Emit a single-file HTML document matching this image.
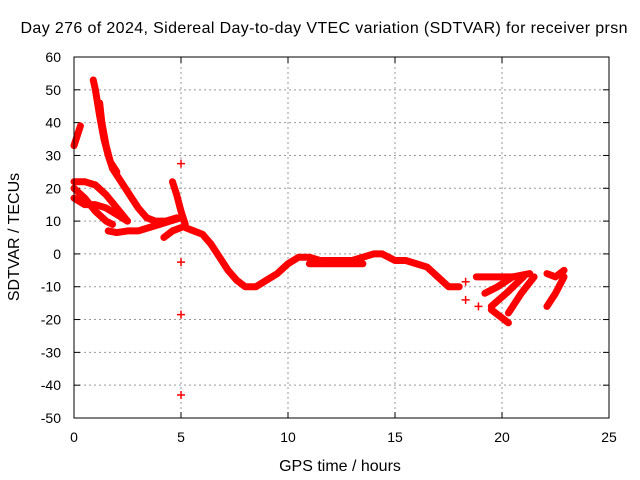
<!DOCTYPE html>
<html><head><meta charset="utf-8"><style>
body{margin:0;background:#fff;}
svg{display:block;font-family:"Liberation Sans",sans-serif;}
</style></head><body>
<svg id="chart" width="640" height="480">
<rect width="640" height="480" fill="#fff"/>
<text x="324" y="33" font-size="16" text-anchor="middle" textLength="607">Day 276 of 2024, Sidereal Day-to-day VTEC variation (SDTVAR) for receiver prsn</text>
<text x="340" y="471" font-size="16" text-anchor="middle">GPS time / hours</text>
<text transform="translate(19,237) rotate(-90)" font-size="16" text-anchor="middle">SDTVAR / TECUs</text>
<g id="grid"></g><g id="ticks"></g><g id="series"></g>
<rect x="74" y="57" width="535" height="361" fill="none" stroke="#000" stroke-width="1"/>
</svg>
<script>
const xTicks=[0,5,10,15,20,25];
const yTicks=[60,50,40,30,20,10,0,-10,-20,-30,-40,-50];
const trackMain1=[[0.9,53],[1.0,50],[1.2,42],[1.4,35],[1.6,30],[1.8,26],[2.2,22],[2.6,18],[3.0,14],[3.4,11],[3.8,10],[4.3,10],[4.8,11]];
const trackMain2=[[1.2,46],[1.3,40],[1.5,33],[1.7,28],[2.0,25]];
const trackB=[[0,22],[0.5,22],[1.0,21],[1.5,18],[2.0,14],[2.5,10]];
const trackC=[[0,17],[0.5,15],[1,15],[1.5,14],[2,12],[2.5,10]];
const trackD=[[0,20],[0.5,17],[1,13],[1.5,10],[1.8,9]];
const trackE=[[1.6,7],[2,6.5],[2.5,7],[3,7],[3.5,8],[4,9],[4.5,10],[5,11]];
const trackF=[[0,33],[0.1,35],[0.3,39]];
const trackG=[[4.6,22],[4.8,18],[5.0,13],[5.2,9]];
const trackH=[[4.2,5],[4.6,7],[5,8]];
const trackLong=[[5.2,8],[5.6,7],[6,6],[6.4,3],[6.8,-1],[7.2,-5],[7.6,-8],[8,-10],[8.5,-10],[9,-8],[9.5,-6],[10,-3],[10.5,-1],[11,-1],[11.5,-2],[12,-2],[12.5,-2],[13,-2],[13.5,-1],[14,0],[14.4,0],[15,-2],[15.5,-2],[16,-3],[16.5,-4],[17,-7],[17.5,-10],[18,-10]];
const trackLow=[[11,-3],[12,-3],[13,-3],[13.5,-3]];
const trackR1=[[18.8,-7],[19.5,-7],[20.5,-7],[21.3,-6]];
const trackR2=[[19.2,-12],[19.8,-10],[20.5,-7]];
const trackR3=[[19.5,-16],[20.2,-12],[21,-7]];
const trackR4=[[19.5,-17],[20.3,-21]];
const trackR5=[[20.3,-18],[20.9,-12],[21.5,-7]];
const trackR6=[[22.1,-16],[22.5,-12],[22.9,-7]];
const trackR7=[[22.1,-6],[22.5,-7],[22.9,-5]];
const tracks=[trackMain1,trackMain2,trackB,trackC,trackD,trackE,trackF,trackG,trackH,trackLong,trackLow,trackR1,trackR2,trackR3,trackR4,trackR5,trackR6,trackR7];
const isolated=[[5,27.5],[5,-2.5],[5,-18.5],[5,-43],[18.3,-8.5],[18.3,-14],[18.9,-16]];
const X=v=>74+v*535/25, Y=v=>418-(v+50)*361/110;
const NS="http://www.w3.org/2000/svg";
const grid=document.getElementById('grid'),ticks=document.getElementById('ticks'),ser=document.getElementById('series');
function mk(tag,attrs,parent){const e=document.createElementNS(NS,tag);for(const k in attrs)e.setAttribute(k,attrs[k]);parent.appendChild(e);return e;}
xTicks.forEach(t=>{
 if(t>0&&t<25){const g=mk('line',{x1:X(t),x2:X(t),y1:57,y2:418,stroke:'#999','stroke-dasharray':'2,3'},grid);
 
 }
 mk('line',{x1:X(t),x2:X(t),y1:418,y2:412,stroke:'#000'},ticks);
 mk('line',{x1:X(t),x2:X(t),y1:57,y2:63,stroke:'#000'},ticks);
 const l=mk('text',{x:X(t),y:442,'font-size':14,'text-anchor':'middle'},ticks);l.textContent=t;
 
 
});
yTicks.forEach(t=>{
 if(t>-50&&t<60){const g=mk('line',{x1:74,x2:609,y1:Y(t),y2:Y(t),stroke:'#999','stroke-dasharray':'2,3'},grid);
 
 }
 mk('line',{x1:74,x2:80,y1:Y(t),y2:Y(t),stroke:'#000'},ticks);
 mk('line',{x1:603,x2:609,y1:Y(t),y2:Y(t),stroke:'#000'},ticks);
 const l=mk('text',{x:61,y:Y(t)+5,'font-size':14,'text-anchor':'end'},ticks);l.textContent=t;
 
 
});
tracks.forEach(tr=>{
 const p=mk('polyline',{points:tr.map(d=>X(d[0])+','+Y(d[1])).join(' '),fill:'none',stroke:'#f00','stroke-width':7,'stroke-linejoin':'round','stroke-linecap':'round'},ser);
 
 
});
isolated.forEach(d=>{
 const p=mk('path',{d:`M${X(d[0])-4},${Y(d[1])}h8M${X(d[0])},${Y(d[1])-4}v8`,stroke:'#f00','stroke-width':1.5},ser);
 
 
});
</script>
</body></html>
